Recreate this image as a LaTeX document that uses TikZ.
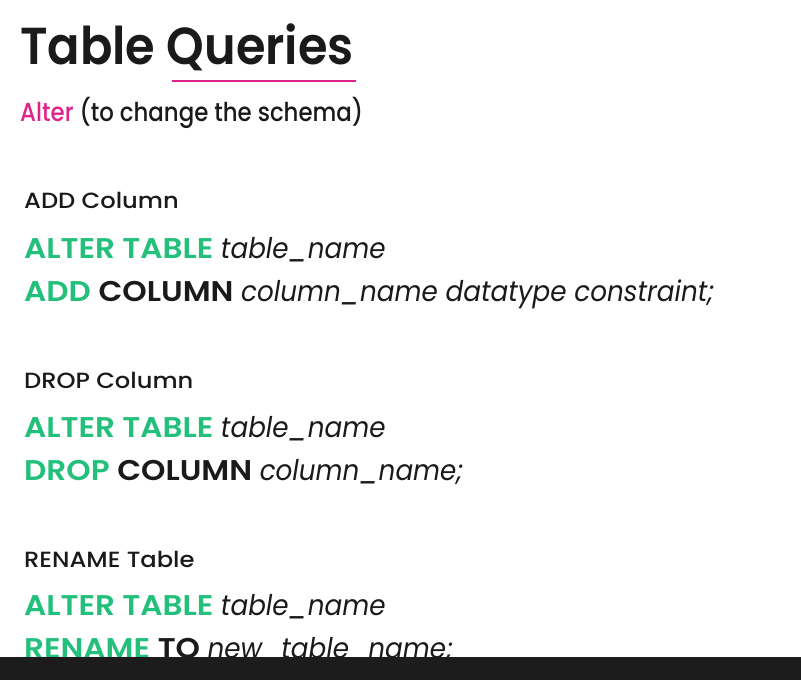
\documentclass[tikz,border=0pt]{standalone}
\usepackage{fontspec}
\setmainfont{Poppins}
\newfontfamily\titlefont{Poppins SemiBold}[FakeStretch=0.92]
\newfontfamily\subfont{Poppins Medium}[FakeStretch=0.88]
\newfontfamily\headfont{Poppins Medium}[FakeStretch=1.1]
\newfontfamily\kwfont{Poppins SemiBold}[FakeStretch=1.09]
\newfontfamily\itfont{Poppins Italic}[FakeStretch=0.92]
\definecolor{sqlgreen}{HTML}{22C07A}
\definecolor{accentpink}{HTML}{E0228A}
\definecolor{inkdark}{HTML}{1A1A1A}
\definecolor{barcol}{HTML}{1C1C1C}
\newcommand{\kwd}[1]{{\kwfont #1}}
\newcommand{\gkw}[1]{{\kwfont\color{sqlgreen}#1}}
\newcommand{\itx}[1]{{\itfont #1}}
\begin{document}
\begin{tikzpicture}[x=1pt,y=-1pt,
  txt/.style={anchor=base west,inner sep=0pt,text=inkdark},
  title/.style={txt,font=\titlefont\fontsize{52}{60}\selectfont},
  sub/.style={txt,font=\subfont\fontsize{26}{30}\selectfont},
  head/.style={txt,font=\headfont\fontsize{22}{26}\selectfont},
  code/.style={txt,font=\fontsize{28.5}{33}\selectfont},
]
\useasboundingbox (0,0) rectangle (801,680);
\fill[white] (0,0) rectangle (801,680);
\node[title] (t) at (20,64) {Table Queries};
\coordinate (ul1) at (172,81);
\coordinate (ul2) at (356,81);
\draw[accentpink,line width=2.5pt] (ul1) -- (ul2);
\node[sub] (s) at (20,121) {\textcolor{accentpink}{Alter} (to change the schema)};

\node[head] (h1) at (24,208) {ADD Column};
\node[code] (c1a) at (24,258) {\gkw{ALTER TABLE} \itx{table\_name}};
\node[code] (c1b) at (24,301) {\gkw{ADD} \kwd{COLUMN} \itx{column\_name datatype constraint;}};

\node[head] (h2) at (24,388) {DROP Column};
\node[code] (c2a) at (24,437) {\gkw{ALTER TABLE} \itx{table\_name}};
\node[code] (c2b) at (24,480) {\gkw{DROP} \kwd{COLUMN} \itx{column\_name;}};

\node[head] (h3) at (24,567) {RENAME Table};
\node[code] (c3a) at (24,615) {\gkw{ALTER TABLE} \itx{table\_name}};
\node[code] (c3b) at (24,658) {\gkw{RENAME} \kwd{TO} \itx{new\_table\_name;}};

\fill[barcol] (0,657) rectangle (801,680);
\end{tikzpicture}
\end{document}
